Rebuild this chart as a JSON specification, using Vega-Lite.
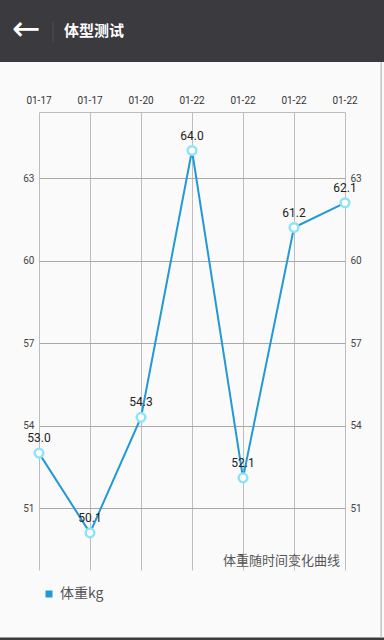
{
  "$schema": "https://vega.github.io/schema/vega-lite/v6.json",
  "autosize": {"type": "none"},
  "width": 306,
  "height": 458,
  "padding": {"left": 39, "top": 112, "right": 39, "bottom": 70},
  "background": "#fafafa",
  "config": {
    "view": {"stroke": null},
    "font": "Roboto, 'Noto Sans CJK SC'"
  },
  "data": {
    "values": [
      {"i": 0, "date": "01-17", "weight": 53.0, "series": "体重kg"},
      {"i": 1, "date": "01-17", "weight": 50.1, "series": "体重kg"},
      {"i": 2, "date": "01-20", "weight": 54.3, "series": "体重kg"},
      {"i": 3, "date": "01-22", "weight": 64.0, "series": "体重kg"},
      {"i": 4, "date": "01-22", "weight": 52.1, "series": "体重kg"},
      {"i": 5, "date": "01-22", "weight": 61.2, "series": "体重kg"},
      {"i": 6, "date": "01-22", "weight": 62.1, "series": "体重kg"}
    ]
  },
  "resolve": {"scale": {"y": "independent"}},
  "layer": [
    {
      "layer": [
        {
          "data": {"values": [{"part": "header"}]},
          "mark": {"type": "rect", "color": "#3a3a3f", "clip": false},
          "encoding": {
            "x": {"datum": -0.77, "type": "quantitative", "scale": {"domain": [0, 6], "nice": false, "zero": false}},
            "x2": {"datum": 6.77},
            "y": {"datum": 67.218, "type": "quantitative", "scale": {"domain": [48.75, 65.4], "nice": false, "zero": false}},
            "y2": {"datum": 69.6}
          }
        },
        {
          "data": {"values": [{"part": "frame"}]},
          "mark": {"type": "rect", "color": "#3a3a3f", "clip": false},
          "encoding": {
            "x": {"datum": -0.77, "type": "quantitative", "scale": {"domain": [0, 6], "nice": false, "zero": false}},
            "x2": {"datum": 6.77},
            "y": {"datum": 46.1, "type": "quantitative", "scale": {"domain": [48.75, 65.4], "nice": false, "zero": false}},
            "y2": {"datum": 46.3}
          }
        },
        {
          "data": {"values": [{"part": "edge"}]},
          "mark": {"type": "rule", "color": "#c4c4c4", "strokeWidth": 1.5, "clip": false},
          "encoding": {
            "x": {"datum": 6.71, "type": "quantitative", "scale": {"domain": [0, 6], "nice": false, "zero": false}},
            "y": {"datum": 67.218, "type": "quantitative", "scale": {"domain": [48.75, 65.4], "nice": false, "zero": false}},
            "y2": {"datum": 46.3}
          }
        },
        {
          "data": {"values": [{"part": "sep"}]},
          "mark": {"type": "rule", "color": "#4c4c52", "strokeWidth": 1, "clip": false},
          "encoding": {
            "x": {"datum": 0.275, "type": "quantitative", "scale": {"domain": [0, 6], "nice": false, "zero": false}},
            "y": {"datum": 67.95, "type": "quantitative", "scale": {"domain": [48.75, 65.4], "nice": false, "zero": false}},
            "y2": {"datum": 68.67}
          }
        },
        {
          "data": {"values": [{"arrow": "←"}]},
          "mark": {"type": "text", "color": "#ffffff", "font": "DejaVu Sans", "fontSize": 34, "fontWeight": "normal", "align": "center", "baseline": "middle", "dy": -1, "clip": false},
          "encoding": {
            "x": {"datum": -0.255, "type": "quantitative", "scale": {"domain": [0, 6], "nice": false, "zero": false}},
            "y": {"datum": 68.345, "type": "quantitative", "scale": {"domain": [48.75, 65.4], "nice": false, "zero": false}},
            "text": {"field": "arrow"}
          }
        },
        {
          "data": {"values": [{"title": "体型测试"}]},
          "mark": {"type": "text", "color": "#ffffff", "font": "Noto Sans CJK SC", "fontSize": 15, "fontWeight": "bold", "align": "left", "baseline": "middle", "clip": false},
          "encoding": {
            "x": {"datum": 0.49, "type": "quantitative", "scale": {"domain": [0, 6], "nice": false, "zero": false}},
            "y": {"datum": 68.345, "type": "quantitative", "scale": {"domain": [48.75, 65.4], "nice": false, "zero": false}},
            "text": {"field": "title"}
          }
        },
        {
          "mark": {"type": "line", "strokeWidth": 2, "clip": false},
          "encoding": {
            "x": {"field": "i", "type": "quantitative", "scale": {"domain": [0, 6], "nice": false, "zero": false},
              "axis": {"orient": "top", "values": [0, 1, 2, 3, 4, 5, 6], "labels": false, "ticks": false, "title": null, "grid": true, "gridColor": "#bdbdbd", "gridWidth": 1, "domain": true, "domainColor": "#bdbdbd", "domainWidth": 1}},
            "y": {"field": "weight", "type": "quantitative", "scale": {"domain": [48.75, 65.4], "nice": false, "zero": false},
              "axis": {"orient": "left", "values": [51, 54, 57, 60, 63], "ticks": false, "domain": false, "title": null, "grid": true, "gridColor": "#a8a8a8", "gridWidth": 1, "labelPadding": 5, "labelFontSize": 10, "labelColor": "#444444", "labelFont": "Roboto"}},
            "color": {"field": "series", "type": "nominal", "scale": {"range": ["#2299d6"]},
              "legend": {"orient": "none", "legendX": 3, "legendY": 475, "title": null, "symbolType": "square", "symbolSize": 49, "labelFontSize": 14, "labelColor": "#555555", "labelFont": "Noto Sans CJK SC", "labelOffset": 4, "padding": 0,
                "encode": {"symbols": {"update": {"fill": {"value": "#2299d6"}, "strokeWidth": {"value": 0}}}}}}
          }
        },
        {
          "mark": {"type": "point", "filled": true, "fill": "#ffffff", "stroke": "#8fe3f8", "strokeWidth": 2.5, "size": 75, "opacity": 1, "clip": false},
          "encoding": {
            "x": {"field": "i", "type": "quantitative", "scale": {"domain": [0, 6], "nice": false, "zero": false}},
            "y": {"field": "weight", "type": "quantitative", "scale": {"domain": [48.75, 65.4], "nice": false, "zero": false}}
          }
        },
        {
          "mark": {"type": "text", "fontSize": 12, "color": "#222222", "font": "Roboto", "align": "center", "baseline": "middle", "dy": -15, "clip": false},
          "encoding": {
            "x": {"field": "i", "type": "quantitative", "scale": {"domain": [0, 6], "nice": false, "zero": false}},
            "y": {"field": "weight", "type": "quantitative", "scale": {"domain": [48.75, 65.4], "nice": false, "zero": false}},
            "text": {"field": "weight", "type": "quantitative", "format": ".1f"}
          }
        },
        {
          "mark": {"type": "text", "fontSize": 10, "color": "#333333", "font": "Roboto", "align": "center", "baseline": "middle", "dy": -11, "clip": false},
          "encoding": {
            "x": {"field": "i", "type": "quantitative", "scale": {"domain": [0, 6], "nice": false, "zero": false}},
            "y": {"datum": 65.4, "type": "quantitative", "scale": {"domain": [48.75, 65.4], "nice": false, "zero": false}},
            "text": {"field": "date"}
          }
        },
        {
          "data": {"values": [{"desc": "体重随时间变化曲线"}]},
          "mark": {"type": "text", "fontSize": 13, "color": "#555555", "font": "Noto Sans CJK SC", "align": "right", "baseline": "middle", "dx": -5, "clip": false},
          "encoding": {
            "x": {"datum": 6, "type": "quantitative", "scale": {"domain": [0, 6], "nice": false, "zero": false}},
            "y": {"datum": 49.07, "type": "quantitative", "scale": {"domain": [48.75, 65.4], "nice": false, "zero": false}},
            "text": {"field": "desc"}
          }
        }
      ]
    },
    {
      "mark": {"type": "point", "opacity": 0},
      "encoding": {
        "x": {"field": "i", "type": "quantitative", "scale": {"domain": [0, 6], "nice": false, "zero": false}},
        "y": {"field": "weight", "type": "quantitative", "scale": {"domain": [48.75, 65.4], "nice": false, "zero": false},
          "axis": {"orient": "right", "values": [51, 54, 57, 60, 63], "ticks": false, "domain": false, "title": null, "grid": false, "labelPadding": 5, "labelFontSize": 10, "labelColor": "#444444", "labelFont": "Roboto"}}
      }
    }
  ]
}
